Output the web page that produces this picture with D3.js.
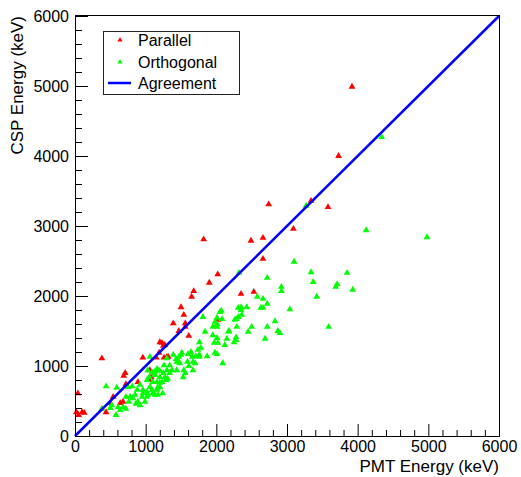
<!DOCTYPE html>
<html>
<head>
<meta charset="utf-8">
<script src="https://cdn.jsdelivr.net/npm/d3@7"></script>
<style>
  body { margin: 0; background: #fff; }
  svg text { font-family: "Liberation Sans", Arial, sans-serif; fill: #000; }
</style>
</head>
<body>
<div class="chart"></div>
<script>
const WIDTH = 521;
const HEIGHT = 477;

// [PMT energy, CSP energy] in keV
var parallel = [
    [20, 340], [50, 300], [100, 340], [130, 330], [40, 610], [380, 1110], [440, 340],
    [500, 470], [540, 560], [640, 470], [680, 490], [690, 860], [710, 900], [720, 740],
    [890, 770], [960, 1120], [1050, 800], [1060, 940], [1080, 840], [1150, 1120],
    [1190, 1190], [1200, 1340], [1230, 1330], [1250, 1290], [1260, 1120], [1270, 1300],
    [1300, 1130], [1320, 1130], [1390, 1610], [1470, 1500], [1500, 1840], [1540, 1730],
    [1560, 1610], [1560, 1560], [1610, 1430], [1650, 1990], [1680, 2070], [1820, 2810],
    [1900, 2190], [2020, 2310], [2020, 1660], [2350, 2030], [2530, 2060], [2490, 2790],
    [2660, 2830], [2660, 2530], [2740, 3310], [3090, 2960], [3340, 3360], [3580, 3270],
    [3730, 4000], [3920, 4990]
];

var orthogonal = [
    [380, 390], [440, 710], [500, 400], [520, 440], [580, 300], [590, 690], [610, 410],
    [640, 370], [680, 410], [720, 390], [720, 560], [750, 700], [810, 710], [760, 490],
    [820, 540], [850, 590], [860, 460], [890, 490], [920, 440], [950, 560], [960, 610],
    [990, 490], [1020, 630], [1030, 590], [1060, 700], [1090, 660], [1100, 610], [1130, 590],
    [1170, 590], [1170, 690], [1160, 770], [1200, 760], [1200, 840], [1240, 610], [1250, 900],
    [1290, 800], [1310, 820], [1060, 1130], [1120, 900], [1160, 960], [1370, 940], [1390, 1160],
    [1440, 1060], [1440, 940], [1500, 1160], [1530, 840], [1540, 940], [1600, 1170], [1660, 1130],
    [1670, 1060], [1670, 940], [1740, 1230], [1760, 1160], [1870, 1140], [1810, 1700], [1980, 1630],
    [2010, 1560], [2050, 1770], [2090, 1040], [1950, 1440], [1840, 1490], [1970, 1330], [2120, 1300],
    [2170, 1490], [2260, 1660], [2280, 1370], [2310, 1830], [1760, 1340], [1640, 1200], [1710, 1140],
    [1980, 1190], [1510, 1190], [1470, 1130], [1430, 1100], [1300, 1110], [1470, 1060], [1590, 1060],
    [1700, 1040], [1170, 940], [1300, 940], [1340, 900], [1030, 940], [1090, 910], [1130, 870],
    [1230, 770], [1100, 770], [1020, 800], [920, 730], [1200, 700], [1160, 660], [960, 660],
    [880, 660], [1020, 560], [780, 560], [1050, 840], [1610, 1000], [1340, 1010],
    [2580, 1990], [2660, 1960], [2720, 1890], [2630, 1830], [2660, 1830], [3040, 1810], [2430, 1840],
    [2350, 1840], [2350, 1800], [2070, 1790], [2360, 1730], [2310, 1700], [2280, 1670], [2010, 1690],
    [2080, 1670], [2010, 1600], [1950, 1560], [2290, 1560], [2500, 1560], [2720, 1560], [2830, 1640],
    [2870, 1500], [2450, 1490], [2180, 1500], [2010, 1400], [2150, 1390], [2280, 1410], [2250, 1340],
    [2690, 1390], [2020, 1330], [1780, 1260], [2010, 1170], [1760, 1130], [1480, 1040], [1260, 1010],
    [1200, 930], [1130, 920], [1560, 900], [1270, 840],
    [2320, 2330], [2720, 2260], [2920, 2130], [2920, 2070], [2900, 1470], [3100, 2490], [3340, 2340],
    [3850, 2330], [3370, 2200], [3710, 2170], [3690, 2130], [3930, 2090], [3420, 1990], [3590, 1560],
    [4120, 2940], [4980, 2840], [3270, 3290], [4340, 4270]
];

var agreement = [[0, 0], [6000, 6000]];

var majorTicks = [0, 1000, 2000, 3000, 4000, 5000, 6000];
var minorTicks = d3.range(0, 6001, 200).filter(function (v) { return v % 1000 !== 0; });

var legendLabels = ["Parallel", "Orthogonal", "Agreement"];

var translate = function (x, y) {
    return "translate(" + x + "," + y + ")";
};

var svg = d3.select('.chart').append('svg')
    .attr('width', WIDTH)
    .attr('height', HEIGHT);

var x = d3.scaleLinear().domain([0, 6000]).range([75, 499]);
var y = d3.scaleLinear().domain([0, 6000]).range([436, 16]);

var tri = d3.symbol().type(d3.symbolTriangle).size(20);

// points: red first, green over, line on top
svg.append('g').selectAll('path')
    .data(parallel)
    .enter()
    .append('path')
    .attr('d', tri)
    .attr('transform', function (d) { return translate(x(d[0]), y(d[1])); })
    .style('fill', '#ff0000');

svg.append('g').selectAll('path')
    .data(orthogonal)
    .enter()
    .append('path')
    .attr('d', tri)
    .attr('transform', function (d) { return translate(x(d[0]), y(d[1])); })
    .style('fill', '#00ff00');

var line = d3.line()
    .x(function (d) { return x(d[0]); })
    .y(function (d) { return y(d[1]); });

svg.append('path')
    .datum(agreement)
    .attr('d', line)
    .style('fill', 'none')
    .style('stroke', '#0000ff')
    .style('stroke-width', 2.5);

// axes
var xMajor = svg.append('g')
    .attr('transform', translate(0, 436))
    .call(d3.axisBottom(x).tickValues(majorTicks).tickSize(-12).tickPadding(5).tickFormat(d3.format('d')));
var xMinor = svg.append('g')
    .attr('transform', translate(0, 436))
    .call(d3.axisBottom(x).tickValues(minorTicks).tickSize(-6).tickFormat(''));
var yMajor = svg.append('g')
    .attr('transform', translate(75, 0))
    .call(d3.axisLeft(y).tickValues(majorTicks).tickSize(-13).tickPadding(6).tickFormat(d3.format('d')));
var yMinor = svg.append('g')
    .attr('transform', translate(75, 0))
    .call(d3.axisLeft(y).tickValues(minorTicks).tickSize(-7).tickFormat(''));

[xMajor, xMinor, yMajor, yMinor].forEach(function (g) {
    g.select('.domain').remove();
    g.selectAll('line').attr('stroke', '#000');
    g.selectAll('text').attr('font-size', 16).style('font-family', '"Liberation Sans", Arial, sans-serif');
});

// frame
svg.append('rect')
    .attr('x', 75.5)
    .attr('y', 15.5)
    .attr('width', 424)
    .attr('height', 421)
    .style('fill', 'none')
    .style('stroke', '#000')
    .style('stroke-width', 1);

// axis titles
svg.append('text')
    .attr('x', 499)
    .attr('y', 472)
    .attr('text-anchor', 'end')
    .attr('font-size', 17)
    .text('PMT Energy (keV)');

svg.append('text')
    .attr('transform', translate(23, 16) + ' rotate(-90)')
    .attr('text-anchor', 'end')
    .attr('font-size', 17)
    .text('CSP Energy (keV)');

// legend
var legend = svg.append('g');
legend.append('rect')
    .attr('x', 103.5)
    .attr('y', 31.5)
    .attr('width', 136)
    .attr('height', 63)
    .style('fill', '#fff')
    .style('stroke', '#222')
    .style('stroke-width', 1);

var legendY = [40, 62, 83];
var smallTri = d3.symbol().type(d3.symbolTriangle).size(12);

legend.append('path')
    .attr('d', smallTri)
    .attr('transform', translate(120, legendY[0]))
    .style('fill', '#ff0000');
legend.append('path')
    .attr('d', smallTri)
    .attr('transform', translate(120, legendY[1]))
    .style('fill', '#00ff00');
legend.append('line')
    .attr('x1', 108).attr('x2', 131)
    .attr('y1', legendY[2]).attr('y2', legendY[2])
    .style('stroke', '#0000ff')
    .style('stroke-width', 2.5);

legend.selectAll('text')
    .data(legendLabels)
    .enter()
    .append('text')
    .attr('x', 138)
    .attr('y', function (d, i) { return legendY[i] + 6; })
    .attr('font-size', 16)
    .text(function (d) { return d; });
</script>
</body>
</html>
